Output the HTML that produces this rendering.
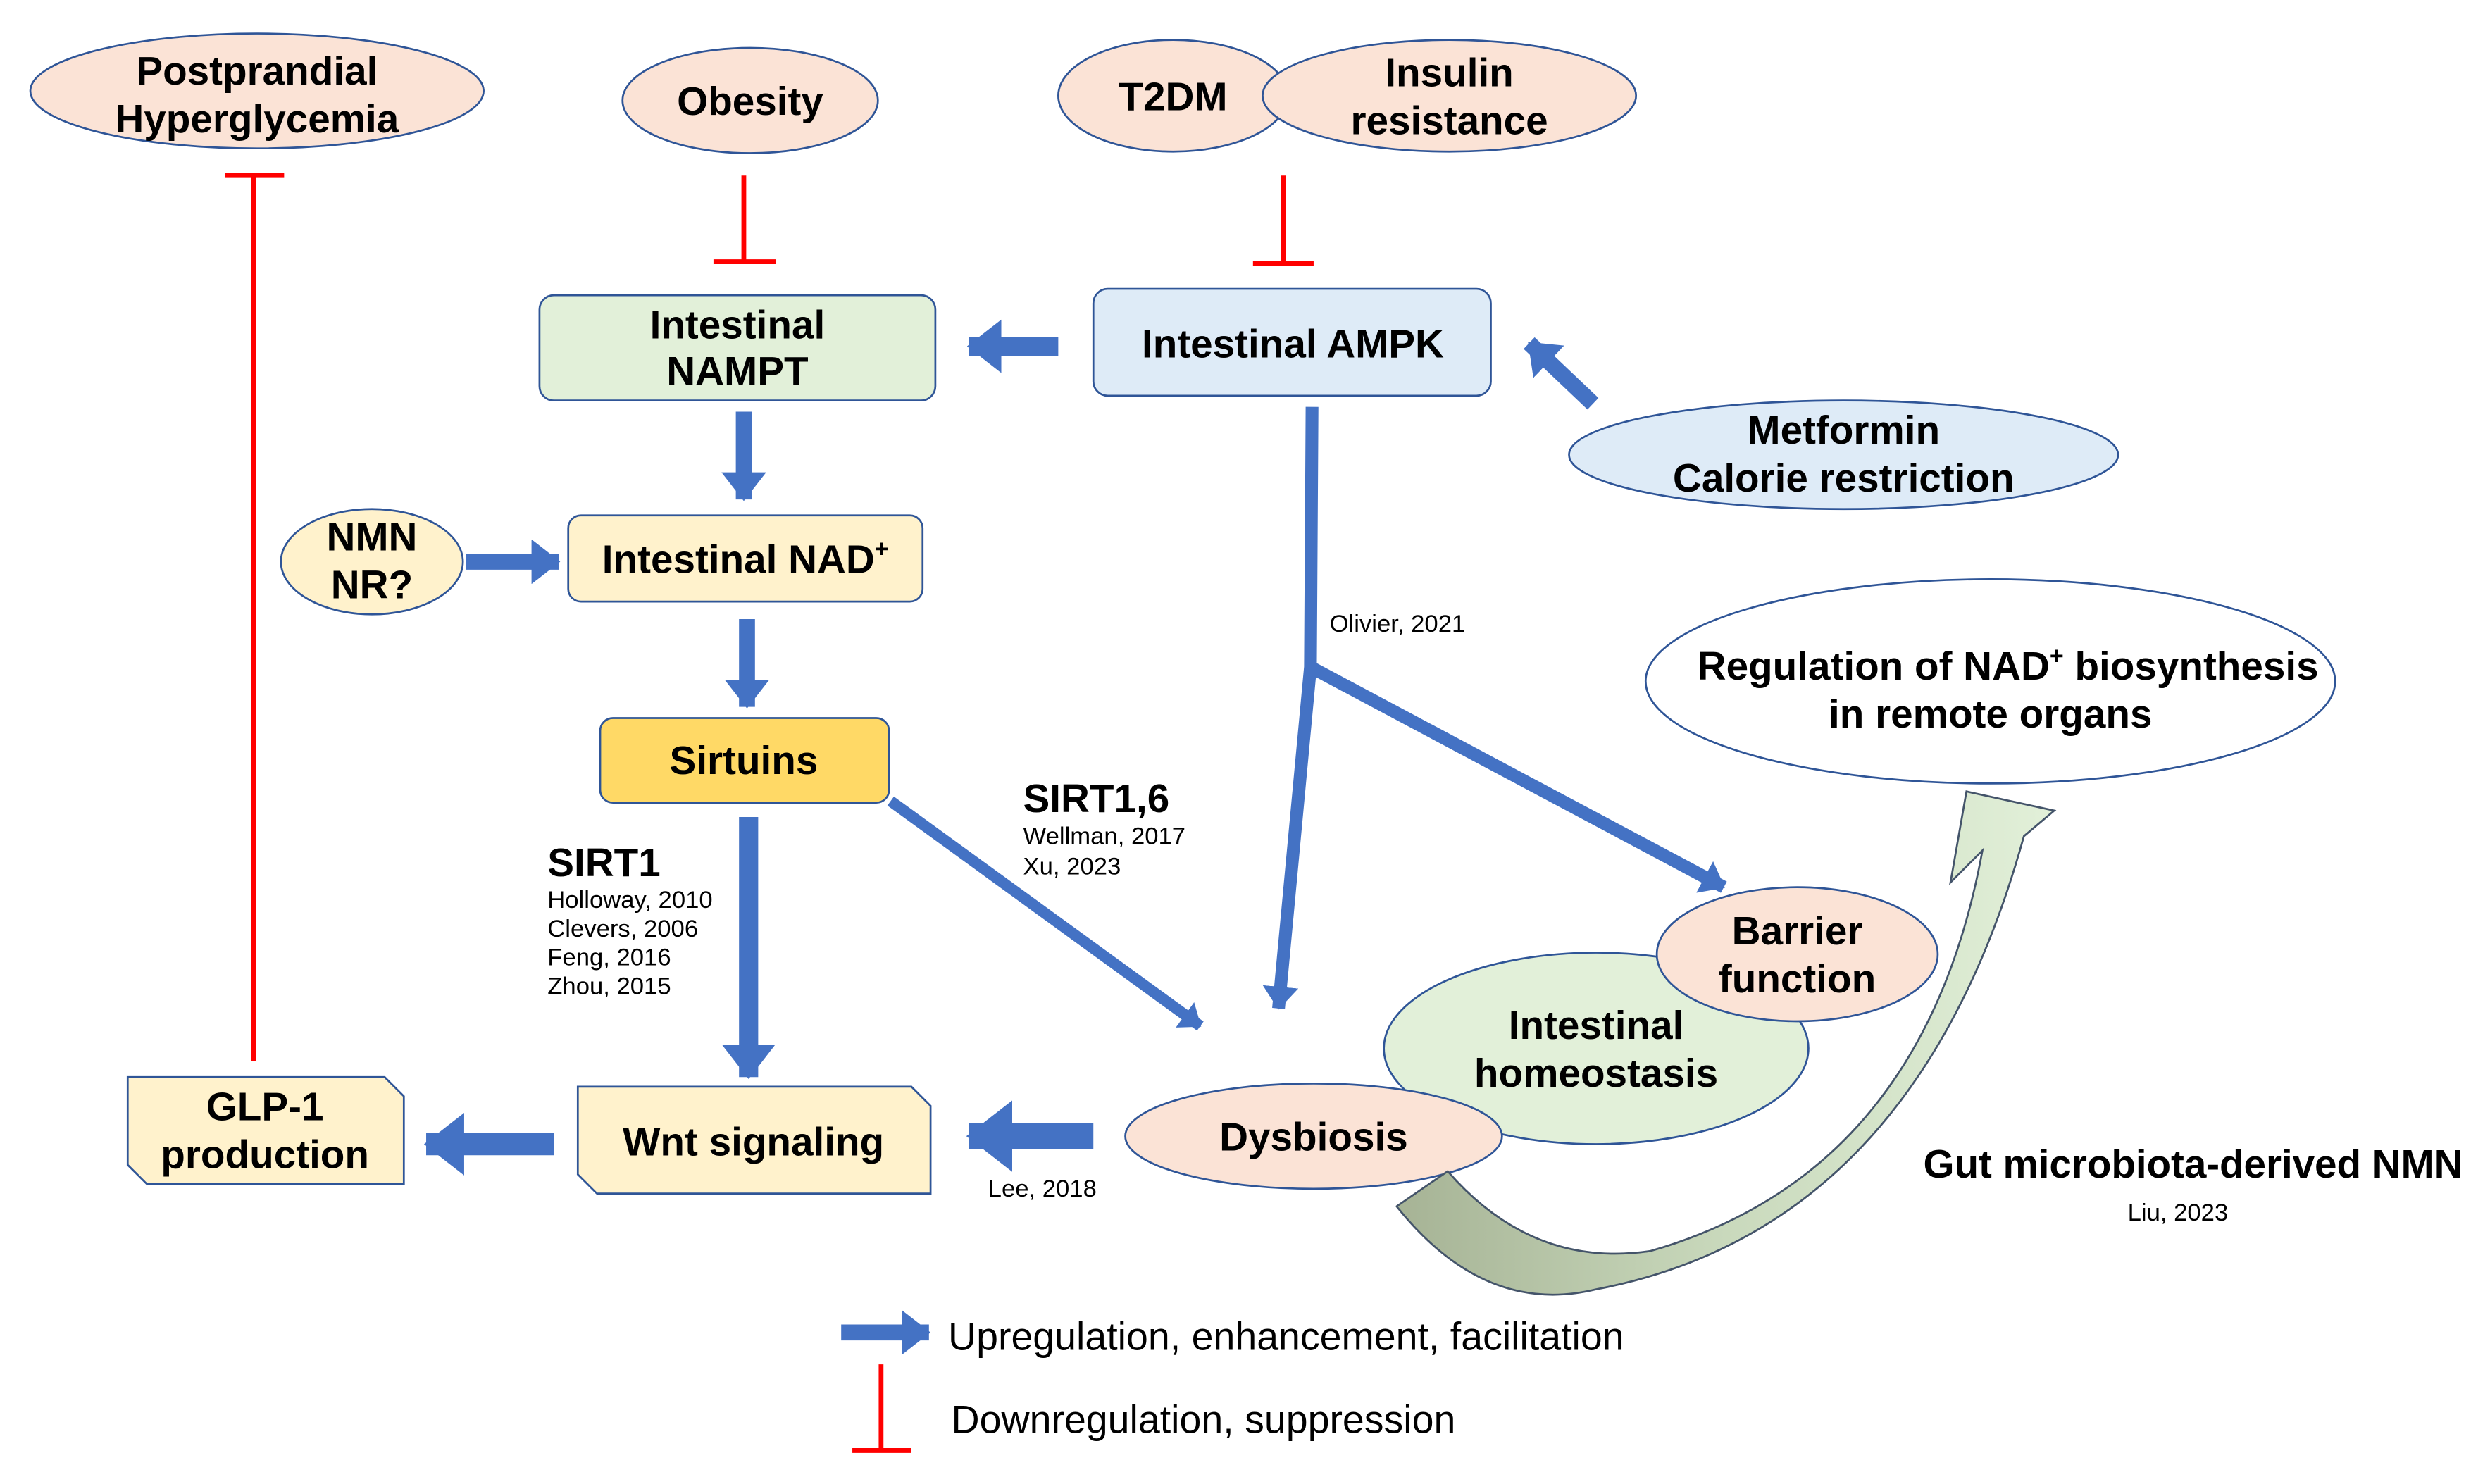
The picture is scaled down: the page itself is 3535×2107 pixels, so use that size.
<!DOCTYPE html>
<html><head><meta charset="utf-8"><style>
html,body{margin:0;padding:0;background:#fff;}
svg{display:block;}
text{font-family:"Liberation Sans",Arial,sans-serif;fill:#000;}
.b{font-weight:bold;font-size:25px;}
.s{font-size:15.3px;}
</style></head><body>
<svg width="3535" height="2107" viewBox="0 0 1560 930" preserveAspectRatio="none" xmlns="http://www.w3.org/2000/svg">
<defs>
<linearGradient id="g" x1="0" y1="0" x2="1" y2="0">
<stop offset="0" stop-color="#a6b395"/><stop offset="0.5" stop-color="#c9d9bc"/><stop offset="1" stop-color="#e2f0d9"/>
</linearGradient>
<marker id="ah" markerWidth="1.8" markerHeight="2.8" refX="1.7" refY="1.4" orient="auto" markerUnits="strokeWidth">
<path d="M0,0 L1.8,1.4 L0,2.8 Z" fill="#4472c4"/></marker>
</defs>
<g stroke="#2f5597" stroke-width="1.2">
<ellipse cx="161" cy="57" rx="142" ry="36" fill="#fbe3d6"/>
<ellipse cx="470" cy="63" rx="80" ry="33" fill="#fbe3d6"/>
<ellipse cx="735" cy="60" rx="72" ry="35" fill="#fbe3d6"/>
<ellipse cx="908" cy="60" rx="117" ry="35" fill="#fbe3d6"/>
<rect x="338" y="185" width="248" height="66" rx="9" fill="#e2f0d9"/>
<rect x="685" y="181" width="249" height="67" rx="9" fill="#deebf7"/>
<ellipse cx="1155" cy="285" rx="172" ry="34" fill="#deebf7"/>
<ellipse cx="233" cy="352" rx="57" ry="33" fill="#fff2cc"/>
<rect x="356" y="323" width="222" height="54" rx="8" fill="#fff2cc"/>
<rect x="376" y="450" width="181" height="53" rx="8" fill="#ffd966"/>
<ellipse cx="1247" cy="427" rx="216" ry="64" fill="#fff"/>
<ellipse cx="1000" cy="657" rx="133" ry="60" fill="#e2f0d9"/>
<ellipse cx="1126" cy="598" rx="88" ry="42" fill="#fbe3d6"/>
<ellipse cx="823" cy="712" rx="118" ry="33" fill="#fbe3d6"/>
<path d="M362,681 L571,681 L583,693 L583,748 L374,748 L362,736 Z" fill="#fff2cc"/>
<path d="M80,675 L241,675 L253,687 L253,742 L92,742 L80,730 Z" fill="#fff2cc"/>
<path d="M875,756 Q930,825 1000,808 Q1200,770 1268,524 L1287,508 L1232,496 L1222,553 L1242,533 Q1205,735 1034,784 Q960,795 907,734 Z" fill="url(#g)" stroke="#44546a"/>
</g>
<g stroke="#ff0000" stroke-width="3" fill="none">
<path d="M159,110 V665 M141,110 H178"/>
<path d="M466,110 V163 M447,164 H486"/>
<path d="M804,110 V165 M785,165 H823"/>
<path d="M552,855 V908 M534,909 H571"/>
</g>
<g stroke="#4472c4" fill="none">
<line x1="663" y1="217" x2="607" y2="217" stroke-width="12" marker-end="url(#ah)"/>
<line x1="998" y1="253" x2="958" y2="215" stroke-width="10" marker-end="url(#ah)"/>
<line x1="466" y1="258" x2="466" y2="313" stroke-width="10" marker-end="url(#ah)"/>
<line x1="292" y1="352" x2="350" y2="352" stroke-width="10" marker-end="url(#ah)"/>
<line x1="468" y1="388" x2="468" y2="443" stroke-width="10" marker-end="url(#ah)"/>
<line x1="469" y1="512" x2="469" y2="675" stroke-width="12" marker-end="url(#ah)"/>
<line x1="558" y1="502" x2="752" y2="643" stroke-width="7" marker-end="url(#ah)"/>
<path d="M822,255 L821,418 L801,632" stroke-width="8" marker-end="url(#ah)"/>
<line x1="821" y1="418" x2="1080" y2="556" stroke-width="8" marker-end="url(#ah)"/>
<line x1="685" y1="712" x2="607" y2="712" stroke-width="16" marker-end="url(#ah)"/>
<line x1="347" y1="717" x2="267" y2="717" stroke-width="14" marker-end="url(#ah)"/>
<line x1="527" y1="835" x2="582" y2="835" stroke-width="10" marker-end="url(#ah)"/>
</g>
<g class="b" text-anchor="middle">
<text x="161" y="53">Postprandial</text><text x="161" y="83">Hyperglycemia</text>
<text x="470" y="72">Obesity</text>
<text x="735" y="69">T2DM</text>
<text x="908" y="54">Insulin</text><text x="908" y="84">resistance</text>
<text x="462" y="212">Intestinal</text><text x="462" y="241">NAMPT</text>
<text x="810" y="224">Intestinal AMPK</text>
<text x="1155" y="278">Metformin</text><text x="1155" y="308">Calorie restriction</text>
<text x="233" y="345">NMN</text><text x="233" y="375">NR?</text>
<text x="467" y="359">Intestinal NAD<tspan font-size="15" dy="-10">+</tspan></text>
<text x="1258" y="426">Regulation of NAD<tspan font-size="15" dy="-10">+</tspan><tspan dy="10"> biosynthesis</tspan></text>
<text x="1247" y="456">in remote organs</text>
<text x="466" y="485">Sirtuins</text>
<text x="1126" y="592">Barrier</text><text x="1126" y="622">function</text>
<text x="1000" y="651">Intestinal</text><text x="1000" y="681">homeostasis</text>
<text x="823" y="721">Dysbiosis</text>
<text x="472" y="724">Wnt signaling</text>
<text x="166" y="702">GLP-1</text><text x="166" y="732">production</text>
</g>
<g>
<text class="b" x="343" y="549">SIRT1</text>
<text class="s" x="343" y="569">Holloway, 2010</text>
<text class="s" x="343" y="587">Clevers, 2006</text>
<text class="s" x="343" y="605">Feng, 2016</text>
<text class="s" x="343" y="623">Zhou, 2015</text>
<text class="b" x="641" y="509">SIRT1,6</text>
<text class="s" x="641" y="529">Wellman, 2017</text>
<text class="s" x="641" y="548">Xu, 2023</text>
<text class="s" x="833" y="396">Olivier, 2021</text>
<text class="s" x="619" y="750">Lee, 2018</text>
<text class="b" x="1205" y="738" textLength="338">Gut microbiota-derived NMN</text>
<text class="s" x="1333" y="765">Liu, 2023</text>
<text x="594" y="846" font-size="24.5">Upregulation, enhancement, facilitation</text>
<text x="596" y="898" font-size="24.5">Downregulation, suppression</text>
</g>
</svg>
</body></html>
